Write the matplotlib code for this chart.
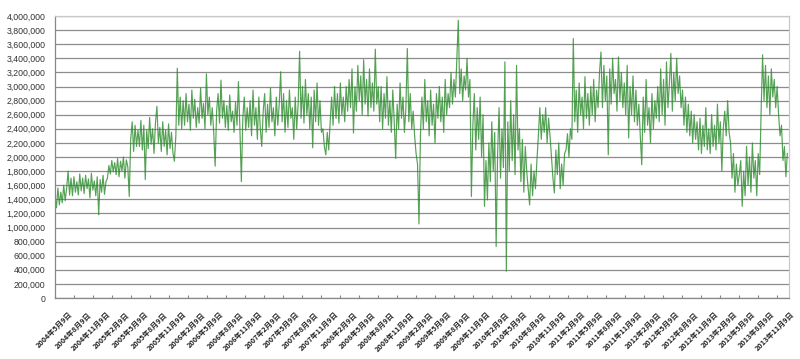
import matplotlib
matplotlib.use("Agg")
import matplotlib.pyplot as plt
import matplotlib.transforms as mtrans
import pandas as pd
import numpy as np

# ---- data (weekly readings, thousands) ----
start_date = "2004-05-09"
values_k = [
    1450,1280,1560,1320,1500,1350,1600,1380,1560,1800,
    1460,1700,1450,1720,1500,
    1650,1460,1760,1520,1700,1480,1740,1550,1690,1420,1770,1530,1660,1450,1720,1180,1680,1500,1740,1470,1650,
    1700,1880,1760,1950,1790,1920,1750,
    1980,1720,1940,1800,2000,1700,1960,1860,
    1440,
    2250,2500,2080,2450,2150,2380,
    2150,2520,2100,2450,1680,2380,2120,2560,2180,2400,2050,2480,2720,2200,2420,2080,2500,2150,2380,2030,2470,2120,2350,2060,1940,2300,
    3260,2450,2850,2400,
    2800,2450,2900,2500,2750,2380,2950,2550,2820,2420,2700,2480,2980,2550,2760,2400,3180,2600,2850,2450,2700,2350,1870,2650,2900,2480,3090,2550,2800,2420,2730,2380,2880,2500,2650,2350,2780,2450,3070,2400,1650,2550,2850,2380,2700,2420,
    2800,2300,2950,2450,2700,2250,2850,2400,2150,2650,2900,2350,2750,2420,2980,2500,2700,2300,2850,2450,2750,3210,2500,2900,2350,2800,2420,2950,2550,2700,2250,2850,2400,2750,
    3500,
    2550,3000,2480,3100,2600,2900,2400,2850,2130,2950,2500,3050,2450,2800,2350,
    2400,2150,2030,2350,2100,2500,
    2850,2450,3000,2550,2900,2480,3050,2600,2850,2500,3000,2650,
    3100,2700,3250,2340,3000,2650,3300,2800,3150,2600,3380,2750,3100,2580,3250,2700,3050,2650,3530,2750,3000,
    2500,3000,2400,2900,2550,3140,2450,2800,2350,2950,2500,1980,2750,2400,3050,2550,2850,2350,2700,3540,2500,2900,2400,2650,2300,
    2050,1900,1050,
    2300,2850,2400,3100,2500,2800,2300,2950,2450,2750,2200,2900,2550,
    3000,2500,2850,2350,3100,2600,2900,
    2700,3200,2750,3100,2850,3380,3940,2900,3250,2800,3150,2950,3400,2850,3100,
    1440,
    2450,2900,2100,2700,2250,2850,2000,2600,
    1300,1950,1390,
    2200,1650,2500,1800,2350,730,2050,2700,1700,2400,1850,3350,
    380,
    2500,1800,2800,1950,2600,1750,3300,2100,
    2400,1650,2250,1500,2150,1800,
    1550,1320,1900,1450,1800,1550,1950,
    2300,2700,2250,2600,2350,2700,2200,2550,2300,
    2000,1700,1490,2100,1750,2200,1550,1900,1600,2050,
    2100,2330,2000,2400,2250,
    3680,
    2500,2950,2350,3050,2600,2850,2400,3140,2550,2900,2450,3000,2600,3100,2500,2950,2700,
    3200,3490,2700,3300,2800,3150,2030,3250,2750,3400,2900,3100,2650,3420,2800,3200,2700,3050,2600,3300,
    2270,3000,2600,3150,2500,2950,2450,
    2750,2300,1890,2850,2350,3100,2450,2700,2200,2900,2400,2800,2550,
    3000,2500,3250,2600,3100,2450,3350,2700,3050,3470,2650,3200,2800,3400,2900,3150,
    2700,2950,2450,2850,2350,2750,2300,2650,2200,2600,2250,2500,
    2100,2550,2050,2450,2150,2700,2100,2400,2050,2600,2150,2450,2100,2750,2200,2500,1800,2400,
    2650,2300,2800,2350,
    2200,1700,2050,1500,1900,1600,1750,
    1950,1300,1800,1450,2150,1600,2000,1500,2200,1700,1950,1450,2050,1750,
    2650,3450,2800,3300,2700,3150,2600,3250,2850,3100,2700,3000,
    2600,2300,2450,1950,2150,1720,2050,
]
y_ticks = list(range(0, 4000001, 200000))
label_months = pd.date_range("2004-05-09", "2013-11-09", freq=pd.DateOffset(months=3))

dates = pd.date_range(start_date, periods=len(values_k), freq="7D")
values = np.array(values_k) * 1000

plt.rcParams['font.family'] = ['Liberation Sans', 'DejaVu Sans']
fig = plt.figure(figsize=(8.0, 3.59), dpi=100)
ax = fig.add_axes([55/800, 1-298/359, (789-55)/800, (298-16)/359])

ax.plot(dates, values, color='#2a8a2a', lw=0.85, alpha=0.8)

ax.set_ylim(0, 4000000)
ax.set_yticks(y_ticks)
ax.set_yticklabels([f"{v:,}" for v in y_ticks], fontsize=6.3, color='#333333')
ax.tick_params(axis='y', length=0, pad=7)
ax.grid(axis='y', color='#8c8c8c', lw=0.9)
ax.set_axisbelow(True)

ax.set_xlim(pd.Timestamp("2004-05-09"), pd.Timestamp("2014-01-06"))
ax.set_xticks(label_months)
ax.set_xticklabels([])
ax.tick_params(axis='x', which='major', direction='in', length=2.5, color='#888888')

mids = label_months + pd.Timedelta(days=46)
ax.set_xticks(mids, minor=True)
ax.set_xticklabels([f"{d.year}年{d.month}月{d.day}日" for d in label_months], minor=True,
                   rotation=45, ha='right', va='center', rotation_mode='anchor',
                   fontsize=5.2, fontweight='bold', family=['Noto Sans CJK JP', 'DejaVu Sans'],
                   color='#222222')
ax.tick_params(axis='x', which='minor', length=0, pad=11)
offset = mtrans.ScaledTranslation(6/100, 0, fig.dpi_scale_trans)
for lbl in ax.get_xticklabels(minor=True):
    lbl.set_transform(lbl.get_transform() + offset)

for s in ['left', 'bottom']:
    ax.spines[s].set_color('#888888')
    ax.spines[s].set_linewidth(0.9)
for s in ['top', 'right']:
    ax.spines[s].set_color('#c8c8c8')
    ax.spines[s].set_linewidth(0.9)

fig.savefig("out.png", dpi=100)
